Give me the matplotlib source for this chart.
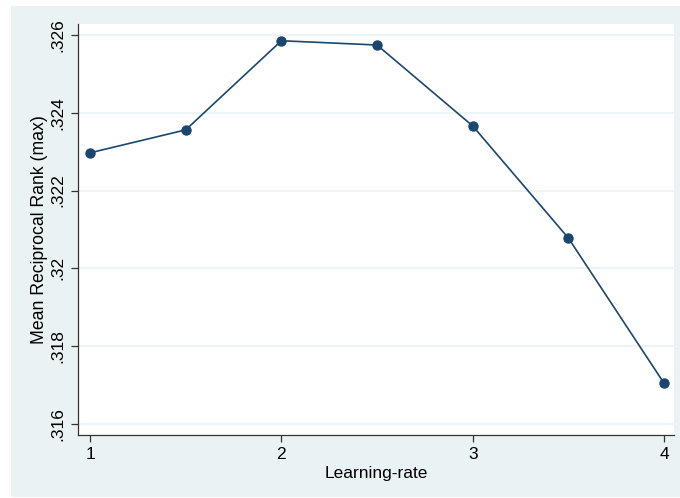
import matplotlib
matplotlib.use("Agg")
import matplotlib.pyplot as plt
from matplotlib.patches import Rectangle

# values
learning_rate = [1, 1.5, 2, 2.5, 3, 3.5, 4]
mrr_max = [0.32297, 0.32356, 0.32585, 0.32574, 0.32366, 0.32078, 0.31705]
y_ticks = [0.316, 0.318, 0.320, 0.322, 0.324, 0.326]
y_tick_labels = [".316", ".318", ".32", ".322", ".324", ".326"]
x_ticks = [1, 2, 3, 4]

plt.rcParams['font.family'] = ['Liberation Sans', 'DejaVu Sans']

W, H = 680, 498
fig = plt.figure(figsize=(6.8, 4.98), dpi=100, facecolor='white')

# stata style grey outer region
fig.patches.append(Rectangle((11 / W, 1 / H), (W - 11) / W, (497 - 6) / H,
                             transform=fig.transFigure, facecolor='#EAF2F3',
                             edgecolor='none', zorder=-10))

ax = fig.add_axes([78 / W, (H - 435) / H, (674 - 78) / W, (435 - 24) / H])
ax.set_facecolor('white')

ax.plot(learning_rate, mrr_max, color='#1A476F', linewidth=1.2,
        marker='o', markersize=6.5, zorder=3)

ax.set_xlim(0.937, 4.052)
ax.set_ylim(0.31572, 0.32628)
ax.set_xticks(x_ticks)
ax.set_xticklabels([str(t) for t in x_ticks])
ax.set_yticks(y_ticks)
ax.set_yticklabels(y_tick_labels, rotation=90, va='center')

ax.grid(axis='y', color='#EAF2F3', linewidth=1.2)
ax.set_axisbelow(True)

for s in ['top', 'right']:
    ax.spines[s].set_visible(False)
for s in ['left', 'bottom']:
    ax.spines[s].set_color('#333333')
    ax.spines[s].set_linewidth(0.9)

ax.tick_params(axis='both', labelsize=12.5, length=5, width=0.9, color='#333333')
ax.tick_params(axis='y', pad=4)
ax.set_xlabel('Learning-rate', fontsize=12.5, labelpad=3)
ax.set_ylabel('Mean Reciprocal Rank (max)', fontsize=12.7, labelpad=2)

fig.savefig('out.png', dpi=100, facecolor=fig.get_facecolor())
